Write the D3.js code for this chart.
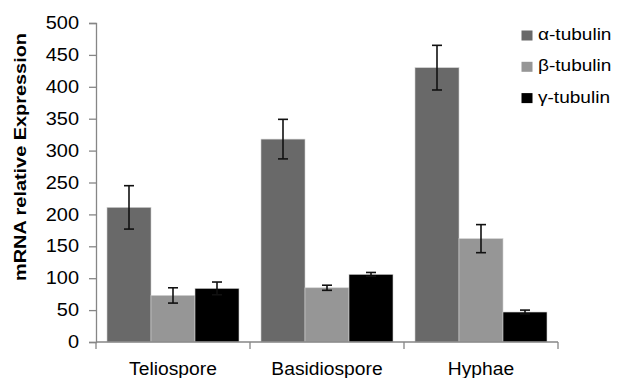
<!DOCTYPE html>
<html>
<head>
<meta charset="utf-8">
<script src="https://cdn.jsdelivr.net/npm/d3@7"></script>
<style>
  body { margin: 0; background: #fff; }
  text { font-family: "Liberation Sans", Arial, sans-serif; }
</style>
</head>
<body>
<svg id="chart" width="617" height="378"></svg>
<script>
// data
var categories = ['Teliospore', 'Basidiospore', 'Hyphae'];
var seriesNames = ['α-tubulin', 'β-tubulin', 'γ-tubulin'];
var seriesColors = ['#696969', '#969696', '#000000'];
var alphaValues = [211, 318, 430];
var alphaErrors = [34, 31, 35];
var betaValues = [73, 85, 162];
var betaErrors = [12, 4, 22];
var gammaValues = [84, 106, 47];
var gammaErrors = [10, 3, 3];
var yTicks = [0, 50, 100, 150, 200, 250, 300, 350, 400, 450, 500];

var values = [alphaValues, betaValues, gammaValues];
var errors = [alphaErrors, betaErrors, gammaErrors];

var margin = {left: 96, right: 59, top: 23, bottom: 36};
var svg = d3.select('#chart');
var W = 617, H = 378;

// the figure's lettering is a bit wider than plain Arial
function widen(sel, k) {
    sel.each(function () {
        var len = this.getComputedTextLength();
        d3.select(this).attr('textLength', len * k).attr('lengthAdjust', 'spacingAndGlyphs');
    });
}

var x0 = d3.scaleBand().domain(categories)
    .range([margin.left, W - margin.right])
    .paddingInner(0).paddingOuter(0);
// gap between groups = 1.5 bar widths
var x1 = d3.scaleBand().domain(d3.range(3))
    .range([0, x0.bandwidth()])
    .paddingInner(0).paddingOuter(0.25);
var y = d3.scaleLinear().domain([0, 500]).range([H - margin.bottom, margin.top]);

var axisColor = '#868686';

// y axis
var yAxis = svg.append('g')
    .attr('transform', 'translate(' + margin.left + ',0)')
    .call(d3.axisLeft(y).tickValues(yTicks).tickSize(7).tickPadding(10).tickFormat(d3.format('d')));
yAxis.select('.domain').attr('stroke', axisColor).attr('stroke-width', 1.3);
yAxis.selectAll('line').attr('stroke', axisColor).attr('stroke-width', 1.3);
yAxis.selectAll('text').attr('font-size', 17.5).attr('fill', '#000')
    .attr('font-family', '"Liberation Sans", Arial, sans-serif');
widen(yAxis.selectAll('text'), 1.14);

// bars
var data = [];
categories.forEach(function (c, i) {
    for (var s = 0; s < 3; s++) {
        data.push({cat: c, s: s, v: values[s][i], e: errors[s][i]});
    }
});

var bars = svg.append('g');
bars.selectAll('rect').data(data).enter().append('rect')
    .attr('x', function (d) { return x0(d.cat) + x1(d.s); })
    .attr('y', function (d) { return y(d.v); })
    .attr('width', x1.bandwidth())
    .attr('height', function (d) { return y(0) - y(d.v); })
    .attr('fill', function (d) { return seriesColors[d.s]; })
    .attr('stroke', '#d0d0d0')
    .attr('stroke-width', 0.6);

// x axis
var xAxisG = svg.append('g').attr('transform', 'translate(0,' + y(0) + ')');
xAxisG.append('line')
    .attr('x1', margin.left).attr('x2', W - margin.right)
    .attr('stroke', axisColor).attr('stroke-width', 1.3);
var bounds = categories.map(function (c) { return x0(c); }).concat([x0(categories[2]) + x0.bandwidth()]);
xAxisG.selectAll('line.tk').data(bounds).enter().append('line')
    .attr('class', 'tk')
    .attr('x1', function (d) { return d; }).attr('x2', function (d) { return d; })
    .attr('y1', 0).attr('y2', 7)
    .attr('stroke', axisColor).attr('stroke-width', 1.3);
var xLabels = xAxisG.selectAll('text').data(categories).enter().append('text')
    .attr('x', function (d) { return x0(d) + x0.bandwidth() / 2; })
    .attr('y', 32.5)
    .attr('text-anchor', 'middle')
    .attr('font-size', 17.5)
    .text(function (d) { return d; });
widen(xLabels, 1.1);

// error bars
var eb = svg.append('g').attr('stroke', '#111').attr('stroke-width', 1.6);
var cap = 5;
data.forEach(function (d) {
    var cx = x0(d.cat) + x1(d.s) + x1.bandwidth() / 2;
    var lo = d.v - d.e, hi = d.v + d.e;
    eb.append('line').attr('x1', cx).attr('x2', cx).attr('y1', y(lo)).attr('y2', y(hi));
    eb.append('line').attr('x1', cx - cap).attr('x2', cx + cap).attr('y1', y(hi)).attr('y2', y(hi));
    eb.append('line').attr('x1', cx - cap).attr('x2', cx + cap).attr('y1', y(lo)).attr('y2', y(lo));
});

// y label
var yLabel = svg.append('text')
    .attr('transform', 'translate(26,157) rotate(-90)')
    .attr('text-anchor', 'middle')
    .attr('font-size', 17)
    .attr('font-weight', 'bold')
    .text('mRNA relative Expression');
widen(yLabel, 1.17);

// legend
var legend = svg.append('g');
seriesNames.forEach(function (n, i) {
    var ly = 35.5 + i * 31.3;
    legend.append('rect')
        .attr('x', 521.5).attr('y', ly - 5).attr('width', 11).attr('height', 10)
        .attr('fill', seriesColors[i]);
    var t = legend.append('text')
        .attr('x', 538).attr('y', ly + 4.5)
        .attr('font-size', 17)
        .text(n);
    widen(t, 1.12);
});
</script>
</body>
</html>
